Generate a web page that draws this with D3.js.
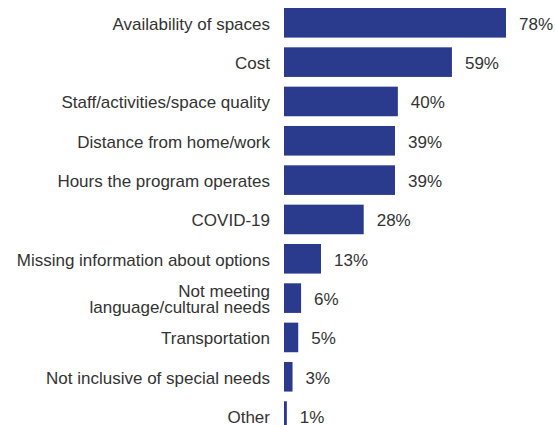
<!DOCTYPE html>
<html><head><meta charset="utf-8">
<script src="https://cdn.jsdelivr.net/npm/d3@7"></script>
<style>body{margin:0;background:#fff;} text{font-family:"Liberation Sans",Arial,sans-serif;}</style>
</head><body><svg id="c" width="555" height="425"></svg>
<script>
const categories = [
  ["Availability of spaces"],
  ["Cost"],
  ["Staff/activities/space quality"],
  ["Distance from home/work"],
  ["Hours the program operates"],
  ["COVID-19"],
  ["Missing information about options"],
  ["Not meeting","language/cultural needs"],
  ["Transportation"],
  ["Not inclusive of special needs"],
  ["Other"]
];
const values = [78, 59, 40, 39, 39, 28, 13, 6, 5, 3, 1];
const valueLabels = ["78%","59%","40%","39%","39%","28%","13%","6%","5%","3%","1%"];

const svg = d3.select("#c");
const x0 = 284;
const x = d3.scaleLinear().domain([0, 78]).range([x0, 506]);
const idx = d3.range(values.length);
const y = d3.scaleBand().domain(idx).range([2.1, 436.8]).paddingInner(0.2474).paddingOuter(0.15);
const fs = 17;

svg.selectAll("rect.bar").data(idx).join("rect")
  .attr("class","bar")
  .attr("x", x(0))
  .attr("y", i => y(i))
  .attr("width", i => x(values[i]) - x(0))
  .attr("height", y.bandwidth())
  .attr("fill", "#2a3a8c");

svg.selectAll("text.val").data(idx).join("text")
  .attr("class","val")
  .attr("x", i => x(values[i]) + 13)
  .attr("y", i => y(i) + y.bandwidth()/2 + 7)
  .attr("font-size", fs)
  .attr("fill", "#333")
  .text(i => valueLabels[i]);

const lab = svg.selectAll("text.cat").data(idx).join("text")
  .attr("class","cat")
  .attr("x", 270)
  .attr("y", i => y(i) + y.bandwidth()/2 + 7)
  .attr("text-anchor","end")
  .attr("font-size", fs)
  .attr("fill", "#333");
lab.each(function(i){
  const lines = categories[i];
  const n = lines.length;
  d3.select(this).selectAll("tspan").data(lines).join("tspan")
    .attr("x", 270)
    .attr("dy", (d,j) => j === 0 ? (-(n-1)*8) : 16)
    .text(d => d);
});
</script></body></html>
